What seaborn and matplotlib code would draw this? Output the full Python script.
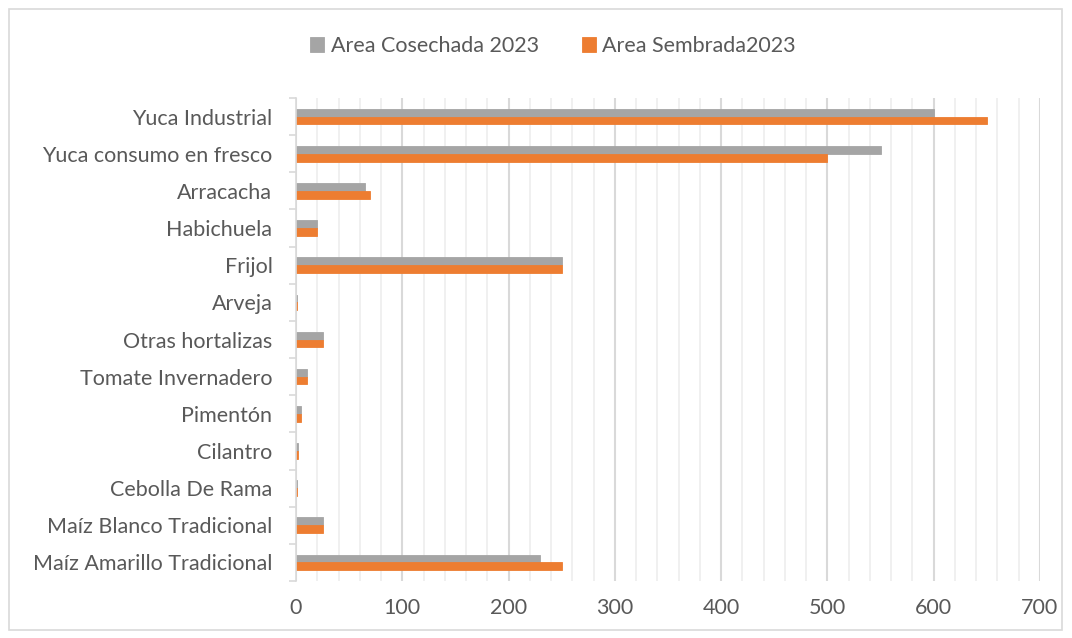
import matplotlib
matplotlib.use("Agg")
import matplotlib.pyplot as plt
import seaborn as sns
import pandas as pd
from matplotlib.patches import Rectangle
from matplotlib.ticker import MultipleLocator, FixedLocator

categories = ["Yuca Industrial", "Yuca consumo en fresco", "Arracacha", "Habichuela",
              "Frijol", "Arveja", "Otras hortalizas", "Tomate Invernadero", "Pimentón",
              "Cilantro", "Cebolla De Rama", "Maíz Blanco Tradicional",
              "Maíz Amarillo Tradicional"]
cosechada = [600, 550, 65, 20, 250, 1, 25, 10, 5, 2, 1, 25, 230]
sembrada = [650, 500, 70, 20, 250, 1, 25, 10, 5, 2, 1, 25, 250]
series_names = ["Area Cosechada 2023", "Area Sembrada2023"]
colors = ["#a5a5a5", "#ed7d31"]
x_ticks = [0, 100, 200, 300, 400, 500, 600, 700]

df = pd.DataFrame({
    "cat": categories * 2,
    "val": cosechada + sembrada,
    "serie": [series_names[0]] * len(categories) + [series_names[1]] * len(categories),
})

sns.set_theme(style="white")
plt.rcParams["font.family"] = ["Lato", "DejaVu Sans"]
text_color = "#595959"

fig = plt.figure(figsize=(10.72, 6.38), dpi=100)
ax = fig.add_axes([296 / 1072, 1 - 581 / 638, (1040 - 296) / 1072, (581 - 98) / 638])

sns.barplot(data=df, y="cat", x="val", hue="serie", order=categories,
            hue_order=series_names, palette=colors, width=0.42, dodge=True,
            orient="h", ax=ax, saturation=1, linewidth=0.6,
            legend=True)
for bar in ax.patches:
    bar.set_edgecolor(bar.get_facecolor())

ax.set_xlim(0, 700)
ax.set_ylim(len(categories) - 0.5, -0.5)
ax.set_xticks(x_ticks)
ax.xaxis.set_minor_locator(MultipleLocator(20))
ax.grid(False)
ax.grid(axis="x", which="minor", color="#efefef", linewidth=1.3, zorder=0)
ax.grid(axis="x", which="major", color="#d9d9d9", linewidth=1.5, zorder=0)
ax.set_axisbelow(True)

for s in ["top", "right", "bottom"]:
    ax.spines[s].set_visible(False)
ax.spines["left"].set_color("#d9d9d9")
ax.spines["left"].set_linewidth(1.2)

ax.yaxis.set_minor_locator(FixedLocator([i - 0.5 for i in range(len(categories) + 1)]))
ax.tick_params(axis="y", which="minor", length=5, width=1.2, color="#d9d9d9", left=True)
ax.tick_params(axis="y", which="major", length=0, pad=17, labelsize=15.5, labelcolor=text_color)
ax.tick_params(axis="x", which="both", length=0, bottom=False)
ax.tick_params(axis="x", which="major", pad=12, labelsize=15.5, labelcolor=text_color)
ax.set_xlabel("")
ax.set_ylabel("")

handles, labels = ax.get_legend_handles_labels()
ax.legend(handles, labels, loc="center", bbox_to_anchor=(553 / 1072, 1 - 46 / 638),
          bbox_transform=fig.transFigure, ncol=2, frameon=False, fontsize=15.5,
          labelcolor=text_color, handlelength=0.65, handleheight=0.65, handletextpad=0.3,
          columnspacing=2.0)

fig.patches.append(Rectangle((9 / 1072, 1 - 630 / 638), (1062 - 9) / 1072, (630 - 9) / 638,
                             transform=fig.transFigure, fill=False,
                             edgecolor="#d9d9d9", linewidth=1.2))

fig.savefig("out.png", dpi=100)
